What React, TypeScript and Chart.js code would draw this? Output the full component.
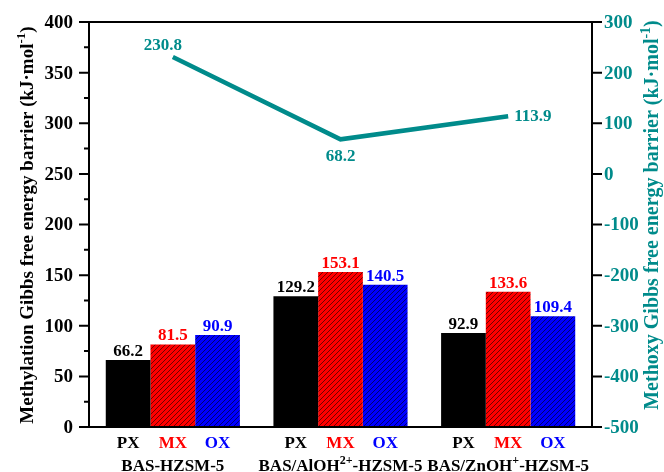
import React, { useEffect, useRef } from 'react';
import { Chart, registerables } from 'chart.js';
Chart.register(...registerables);

const categories = ['BAS-HZSM-5', 'BAS/AlOH2+-HZSM-5', 'BAS/ZnOH+-HZSM-5'];
const categoryParts = [
  [{ t: 'BAS-HZSM-5' }],
  [{ t: 'BAS/AlOH' }, { t: '2+', sup: true }, { t: '-HZSM-5' }],
  [{ t: 'BAS/ZnOH' }, { t: '+', sup: true }, { t: '-HZSM-5' }],
];
const seriesNames = ['PX', 'MX', 'OX'];
const pxValues = [66.2, 129.2, 92.9];
const mxValues = [81.5, 153.1, 133.6];
const oxValues = [90.9, 140.5, 109.4];
const methoxyValues = [230.8, 68.2, 113.9];
const leftTicks = [0, 50, 100, 150, 200, 250, 300, 350, 400];
const rightTicks = [-500, -400, -300, -200, -100, 0, 100, 200, 300];

const TEAL = '#008B8B';
const SERIES_COLORS = ['#000000', '#FF0000', '#0000FF'];
const FONT = '"Liberation Serif", "Times New Roman", serif';

function hatch(color: string) {
  const s = 5;
  const c = document.createElement('canvas');
  c.width = s; c.height = s;
  const g = c.getContext('2d')!;
  g.fillStyle = color;
  g.fillRect(0, 0, s, s);
  g.strokeStyle = 'rgba(0,0,0,0.8)';
  g.lineWidth = 0.7;
  g.beginPath();
  g.moveTo(0, s); g.lineTo(s, 0);
  g.moveTo(-1, 1); g.lineTo(1, -1);
  g.moveTo(s - 1, s + 1); g.lineTo(s + 1, s - 1);
  g.stroke();
  return g.createPattern(c, 'repeat')!;
}

type Part = { t: string; sup?: boolean };
function drawRich(ctx: CanvasRenderingContext2D, parts: Part[], x: number, y: number, size: number, color: string) {
  const main = `bold ${size}px ${FONT}`;
  const sup = `bold ${Math.round(size * 0.7)}px ${FONT}`;
  let total = 0;
  const widths = parts.map(p => { ctx.font = p.sup ? sup : main; const w = ctx.measureText(p.t).width; total += w; return w; });
  let cx = x - total / 2;
  ctx.fillStyle = color;
  ctx.textAlign = 'left';
  ctx.textBaseline = 'alphabetic';
  parts.forEach((p, i) => {
    ctx.font = p.sup ? sup : main;
    ctx.fillText(p.t, cx, p.sup ? y - size * 0.42 : y);
    cx += widths[i];
  });
}

const decorPlugin = {
  id: 'decor',
  afterDraw(chart: any) {
    const ctx: CanvasRenderingContext2D = chart.ctx;
    const { left, right, top, bottom } = chart.chartArea;
    const yS = chart.scales.y, y1S = chart.scales.y1;
    ctx.save();
    // frame
    ctx.strokeStyle = '#000';
    ctx.lineWidth = 2;
    ctx.beginPath();
    ctx.moveTo(left, top); ctx.lineTo(right, top);
    ctx.moveTo(left, bottom); ctx.lineTo(right, bottom);
    ctx.moveTo(left, top - 1); ctx.lineTo(left, bottom + 1);
    ctx.moveTo(right, top - 1); ctx.lineTo(right, bottom + 1);
    ctx.stroke();
    // ticks
    ctx.beginPath();
    for (let v = 0; v <= 400; v += 25) {
      const py = yS.getPixelForValue(v);
      const len = v % 50 === 0 ? 10 : 5;
      ctx.moveTo(left, py); ctx.lineTo(left - len, py);
    }
    for (const v of rightTicks) {
      const py = y1S.getPixelForValue(v);
      ctx.moveTo(right, py); ctx.lineTo(right + 10, py);
    }
    ctx.stroke();
    ctx.font = `bold 19px ${FONT}`;
    ctx.textBaseline = 'middle';
    ctx.textAlign = 'right';
    ctx.fillStyle = '#000';
    for (const v of leftTicks) ctx.fillText(String(v), left - 16, yS.getPixelForValue(v) + 1);
    ctx.textAlign = 'left';
    ctx.fillStyle = TEAL;
    for (const v of rightTicks) ctx.fillText(String(v), right + 12, y1S.getPixelForValue(v) + 1);

    // bar value labels & x sublabels
    const valueSets = [pxValues, mxValues, oxValues];
    for (let d = 0; d < 3; d++) {
      const meta = chart.getDatasetMeta(d);
      meta.data.forEach((el: any, i: number) => {
        ctx.font = `bold 17px ${FONT}`;
        ctx.textAlign = 'center';
        ctx.textBaseline = 'alphabetic';
        ctx.fillStyle = SERIES_COLORS[d];
        ctx.fillText(valueSets[d][i].toFixed(1), el.x, el.y - 4);
        ctx.fillText(seriesNames[d], el.x, bottom + 21);
      });
    }
    // group labels
    const xS = chart.scales.x;
    categoryParts.forEach((parts, i) => {
      drawRich(ctx, parts, xS.getPixelForValue(i), bottom + 44, 17, '#000');
    });
    // line labels
    const lm = chart.getDatasetMeta(3);
    ctx.font = `bold 17px ${FONT}`;
    ctx.fillStyle = TEAL;
    ctx.textBaseline = 'alphabetic';
    const p0 = lm.data[0], p1 = lm.data[1], p2 = lm.data[2];
    ctx.textAlign = 'center';
    ctx.fillText(methoxyValues[0].toFixed(1), p0.x - 10, p0.y - 7);
    ctx.fillText(methoxyValues[1].toFixed(1), p1.x, p1.y + 22);
    ctx.textAlign = 'left';
    ctx.fillText(methoxyValues[2].toFixed(1), p2.x + 6, p2.y + 5);

    // axis titles
    ctx.save();
    ctx.translate(33, 225);
    ctx.rotate(-Math.PI / 2);
    drawRich(ctx, [{ t: 'Methylation Gibbs free energy barrier (kJ·mol' }, { t: '-1', sup: true }, { t: ')' }], 0, 0, 19, '#000');
    ctx.restore();
    ctx.save();
    ctx.translate(658, 215);
    ctx.rotate(-Math.PI / 2);
    drawRich(ctx, [{ t: 'Methoxy Gibbs free energy barrier (kJ·mol' }, { t: '-1', sup: true }, { t: ')' }], 0, 0, 20, TEAL);
    ctx.restore();
    ctx.restore();
  },
};

export default function App() {
  const ref = useRef<HTMLCanvasElement>(null);
  useEffect(() => {
    document.body.style.margin = '0';
    const chart = new Chart(ref.current!, {
      type: 'bar',
      data: {
        labels: categories,
        datasets: [
          { label: seriesNames[0], data: pxValues, backgroundColor: '#000000', yAxisID: 'y', order: 2 },
          { label: seriesNames[1], data: mxValues, backgroundColor: hatch('#FF0000'), yAxisID: 'y', order: 2 },
          { label: seriesNames[2], data: oxValues, backgroundColor: hatch('#0000FF'), yAxisID: 'y', order: 2 },
          { type: 'line', label: 'Methoxy', data: methoxyValues, borderColor: TEAL, borderWidth: 4.5, pointRadius: 0, yAxisID: 'y1', order: 1, borderCapStyle: 'butt' } as any,
        ],
      },
      options: {
        responsive: false,
        animation: false,
        layout: { padding: { left: 89, right: 72, top: 22, bottom: 45 } },
        datasets: { bar: { categoryPercentage: 0.8, barPercentage: 1.0 } },
        plugins: { legend: { display: false }, tooltip: { enabled: false } },
        scales: {
          x: { display: false, offset: true },
          y: { display: false, min: 0, max: 400 },
          y1: { display: false, min: -500, max: 300, position: 'right' },
        },
      },
      plugins: [decorPlugin],
    });
    return () => chart.destroy();
  }, []);
  return <canvas ref={ref} width={664} height={472} style={{ display: 'block' }} />;
}
